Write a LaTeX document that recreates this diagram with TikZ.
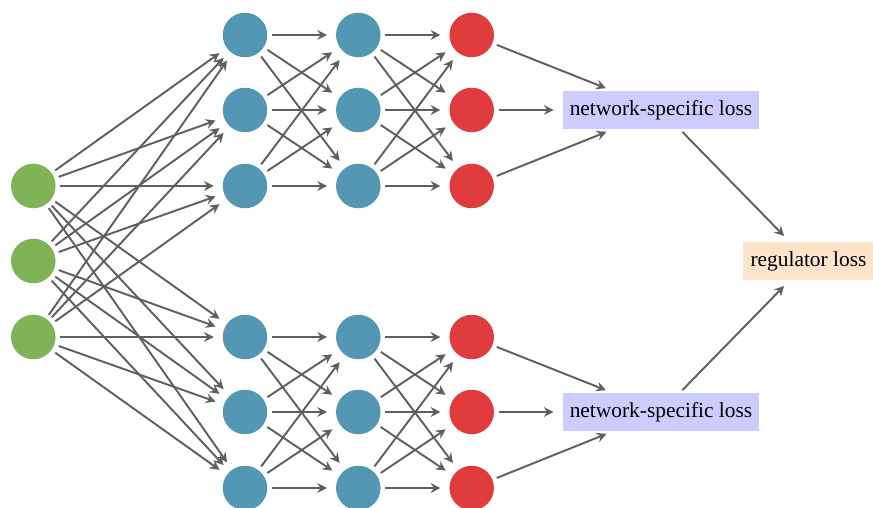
\documentclass[tikz,border=0pt]{standalone}
\usepackage{fontspec}
\setmainfont{Liberation Serif}
\usetikzlibrary{arrows.meta}
\definecolor{ngreen}{RGB}{127,179,86}
\definecolor{nblue}{RGB}{83,151,180}
\definecolor{nred}{RGB}{224,60,62}
\definecolor{lossblue}{RGB}{204,204,255}
\definecolor{regorange}{RGB}{255,228,204}
\definecolor{linegray}{RGB}{95,95,95}
\begin{document}
\begin{tikzpicture}[x=0.4673pt,y=-0.4673pt,
  neuron/.style={circle,minimum size=20.8pt,inner sep=0pt,outer sep=0pt},
  inp/.style={neuron,fill=ngreen},
  hid/.style={neuron,fill=nblue},
  outn/.style={neuron,fill=nred},
  conn/.style={draw=linegray,line width=0.9pt,-{Stealth[length=4.6pt,width=4.6pt,inset=1.6pt]},shorten <=2.2pt,shorten >=4.2pt},
  lossbox/.style={fill=lossblue,inner sep=3.33pt,minimum height=17.3pt,outer sep=0pt},
  regbox/.style={fill=regorange,inner sep=3.33pt,minimum height=17.3pt,outer sep=0pt}]
\useasboundingbox (0,0) rectangle (873,508);
% input
\node[inp] (g1) at (33.3,186) {};
\node[inp] (g2) at (33.3,261) {};
\node[inp] (g3) at (33.3,337) {};
% hidden layers and outputs
\foreach \i/\y in {1/35,2/110,3/186,4/337,5/412,6/488}{
  \node[hid] (a\i) at (245,\y) {};
  \node[hid] (b\i) at (358.3,\y) {};
  \node[outn] (r\i) at (471.7,\y) {};
}
% losses
\node[lossbox] (L1) at (661,110) {network-specific loss};
\node[lossbox] (L2) at (661,412) {network-specific loss};
\node[regbox] (R) at (808.5,261) {regulator loss};
% connections input -> first hidden
\foreach \g in {1,2,3}{
  \foreach \i in {1,...,6}{
    \draw[conn] (g\g) -- (a\i);
  }
}
% hidden -> hidden, hidden -> output
\foreach \s in {0,3}{
  \foreach \i in {1,2,3}{
    \foreach \j in {1,2,3}{
      \pgfmathtruncatemacro{\ii}{\i+\s}
      \pgfmathtruncatemacro{\jj}{\j+\s}
      \draw[conn] (a\ii) -- (b\jj);
      \draw[conn] (b\ii) -- (r\jj);
    }
  }
}
% outputs -> losses
\foreach \i in {1,2,3}{\draw[conn] (r\i) -- (L1);}
\foreach \i in {4,5,6}{\draw[conn] (r\i) -- (L2);}
\draw[conn] (L1) -- (R);
\draw[conn] (L2) -- (R);
\end{tikzpicture}
\end{document}
